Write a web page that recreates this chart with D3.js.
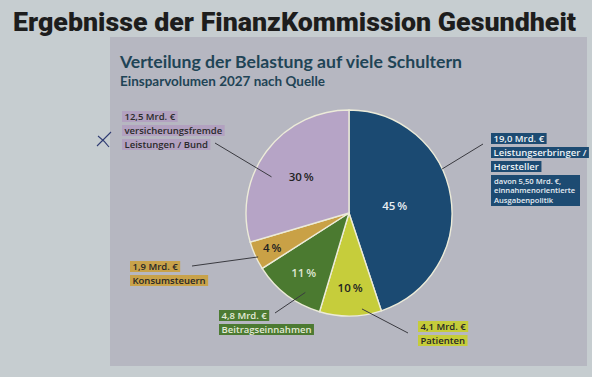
<!DOCTYPE html>
<html>
<head>
<meta charset="utf-8">
<script src="https://cdn.jsdelivr.net/npm/d3@7"></script>
<style>
  body { margin: 0; background: #c6cdd0; }
  svg { display: block; }
  .lbl { font-family: "Open Sans", sans-serif; font-weight: 600; }
</style>
</head>
<body>
<div id="chart"></div>
<script>
// data (Mrd. €, Einsparvolumen 2027)
const sources = ["Leistungserbringer / Hersteller", "Patienten", "Beitragseinnahmen", "Konsumsteuern", "versicherungsfremde Leistungen / Bund"];
const volumes = [19.0, 4.1, 4.8, 1.9, 12.5];
const labelRows = [
    ["19,0 Mrd. €", "Leistungserbringer /", "Hersteller"],
    ["4,1 Mrd. €", "Patienten"],
    ["4,8 Mrd. €", "Beitragseinnahmen"],
    ["1,9 Mrd. €", "Konsumsteuern"],
    ["12,5 Mrd. €", "versicherungsfremde", "Leistungen / Bund"]
];
const blueNote = ["davon 5,50 Mrd. €,", "einnahmenorientierte", "Ausgabenpolitik"];
const sliceColors = ["#1b4a72", "#c6cd3b", "#4b7a30", "#c9a146", "#b6a4c6"];
const boxColors = ["#1d4b72", "#c5cc3a", "#4c7a32", "#c8a24a", "#b2a1c0"];
const boxText = ["#eef3f6", "#262626", "#e3ead6", "#262626", "#2a2a2a"];
const pctText = ["#e9eef3", "#222", "#dfe6d3", "#222", "#222"];

const W = 592, H = 377;
const svg = d3.select("#chart").append("svg")
    .attr("width", W).attr("height", H);

// panel behind the chart
svg.append("rect")
    .attr("x", 110).attr("y", 37)
    .attr("width", 477).attr("height", 329)
    .attr("fill", "#b6b7c1");

// titles
svg.append("text")
    .attr("x", 13).attr("y", 31)
    .attr("textLength", 563).attr("lengthAdjust", "spacingAndGlyphs")
    .attr("font-family", "Roboto, 'Open Sans', sans-serif")
    .attr("font-weight", 900).attr("font-size", 25)
    .attr("fill", "#1d1d1d")
    .text("Ergebnisse der FinanzKommission Gesundheit");

svg.append("text")
    .attr("x", 120).attr("y", 68)
    .attr("textLength", 342).attr("lengthAdjust", "spacingAndGlyphs")
    .attr("font-family", "Lato, sans-serif")
    .attr("font-weight", 700).attr("font-size", 17)
    .attr("fill", "#1f4456")
    .text("Verteilung der Belastung auf viele Schultern");

svg.append("text")
    .attr("x", 120).attr("y", 86)
    .attr("textLength", 205).attr("lengthAdjust", "spacingAndGlyphs")
    .attr("font-family", "Lato, sans-serif")
    .attr("font-weight", 700).attr("font-size", 12.5)
    .attr("fill", "#1f4456")
    .text("Einsparvolumen 2027 nach Quelle");

// pie
const cx = 349, cy = 213, R = 103;
const total = d3.sum(volumes);
const pie = d3.pie().sort(null).value(d => d)(volumes);
const arc = d3.arc().innerRadius(0).outerRadius(R);

const g = svg.append("g").attr("transform", `translate(${cx},${cy})`);

g.selectAll("path.slice")
    .data(pie)
    .join("path")
    .attr("class", "slice")
    .attr("d", arc)
    .attr("fill", (d, i) => sliceColors[i])
    .attr("stroke", "#ecebd9")
    .attr("stroke-width", 1.4);

// percent labels (radius as fraction of R, per slice)
const pctRadius = [0.45, 0.73, 0.73, 0.82, 0.58];
const pctFmt = v => Math.round(v / total * 100) + "\u2009%";
g.selectAll("text.pct")
    .data(pie)
    .join("text")
    .attr("class", "pct lbl")
    .attr("transform", (d, i) => {
        const r = R * pctRadius[i];
        const a = (d.startAngle + d.endAngle) / 2;
        return `translate(${Math.sin(a) * r},${-Math.cos(a) * r})`;
    })
    .attr("text-anchor", "middle")
    .attr("dy", "0.35em")
    .attr("font-size", 11.5)
    .attr("font-weight", 700)
    .attr("fill", (d, i) => pctText[i])
    .text(d => pctFmt(d.value));

// label layout: box corner, leader start (angle in deg, radius frac), leader end
const layout = [
    {x: 491, y: 133, ang: 64.7, rf: 1.0, end: [483, 144]},
    {x: 418, y: 321, ang: 172.3, rf: 0.94, end: [408, 333]},
    {x: 219, y: 310, ang: 208.8, rf: 0.88, end: [275, 313]},
    {x: 130, y: 261, ang: 244.2, rf: 0.98, end: [192, 266]},
    {x: 122, y: 111, ang: 295, rf: 0.83, end: [215, 143]}
];

// leader lines
svg.selectAll("line.leader")
    .data(layout)
    .join("line")
    .attr("class", "leader")
    .attr("x1", d => cx + Math.sin(d.ang * Math.PI / 180) * R * d.rf)
    .attr("y1", d => cy - Math.cos(d.ang * Math.PI / 180) * R * d.rf)
    .attr("x2", d => d.end[0])
    .attr("y2", d => d.end[1])
    .attr("stroke", "#3a3a40")
    .attr("stroke-width", 1);

// label boxes
const rowH = 11, rowStep = 14, padX = 2.5;
layout.forEach((L, i) => {
    const lg = svg.append("g").attr("transform", `translate(${L.x},${L.y})`);
    labelRows[i].forEach((row, k) => {
        const rg = lg.append("g").attr("transform", `translate(0,${k * rowStep})`);
        const rect = rg.append("rect")
            .attr("height", rowH)
            .attr("fill", boxColors[i]);
        const t = rg.append("text")
            .attr("class", "lbl")
            .attr("x", padX).attr("y", rowH / 2)
            .attr("dy", "0.35em")
            .attr("font-size", 9.5)
            .attr("font-weight", 700)
            .attr("fill", boxText[i])
            .text(row);
        rect.attr("width", t.node().getComputedTextLength() + 2 * padX);
    });
});

// extra note under the blue label
const ng = svg.append("g").attr("transform", "translate(491,175)");
ng.append("rect")
    .attr("width", 89).attr("height", 31)
    .attr("fill", boxColors[0]);
ng.selectAll("text")
    .data(blueNote)
    .join("text")
    .attr("class", "lbl")
    .attr("x", 3)
    .attr("y", (d, k) => 8.5 + k * 9.5)
    .attr("font-size", 7.6)
    .attr("font-weight", 400)
    .attr("fill", "#e6edf2")
    .text(d => d);

// hand-drawn pen mark on the print
svg.append("path")
    .attr("d", "M98,136 C102,139 106,143 109,147 M111,132 C106,137 101,142 97,146")
    .attr("fill", "none")
    .attr("stroke", "#2f3c72")
    .attr("stroke-width", 1.1);
</script>
</body>
</html>
